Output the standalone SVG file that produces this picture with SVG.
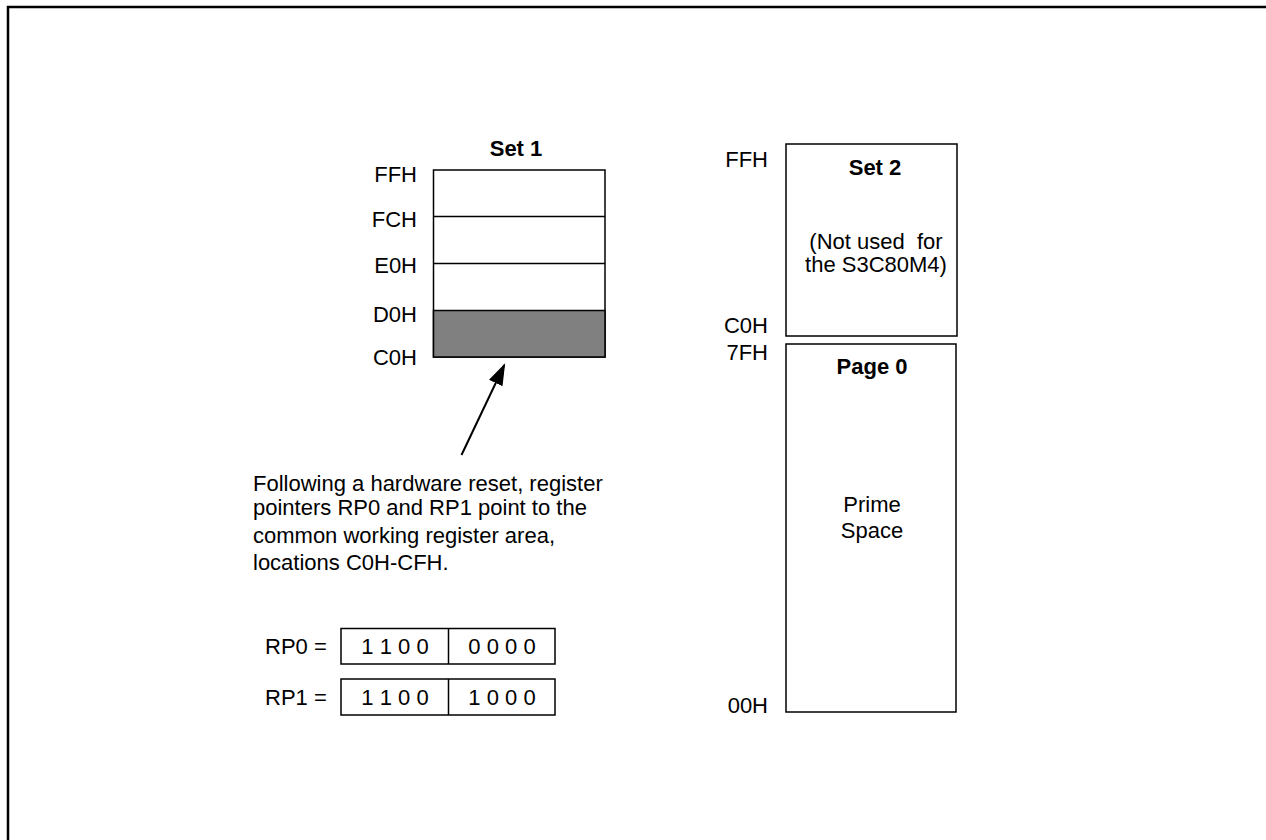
<svg xmlns="http://www.w3.org/2000/svg" width="1266" height="840" viewBox="0 0 1266 840">
<style>
text{font-family:"Liberation Sans",Arial,sans-serif;font-size:22px;fill:#000}
.b{font-weight:bold}
.r{text-anchor:end}
.m{text-anchor:middle}
.box{fill:#fff;stroke:#000;stroke-width:1.5}
.ln{stroke:#000;stroke-width:1.5;fill:none}
</style>
<defs>
<marker id="ah" viewBox="0 0 22 15" refX="20" refY="7.5" markerWidth="11" markerHeight="7.5" orient="auto" markerUnits="strokeWidth">
<path d="M0,0 L22,7.5 L0,15 z" fill="#000"/>
</marker>
</defs>
<rect width="1266" height="840" fill="#fff"/>
<path d="M8,840 V7 H1266" fill="none" stroke="#000" stroke-width="2.5"/>

<g id="set1">
<text class="b m" x="516" y="156">Set 1</text>
<rect class="box" x="433.5" y="170" width="171.5" height="187"/>
<rect x="433.5" y="310.5" width="171.5" height="46.5" fill="#808080" stroke="#000" stroke-width="1.5"/>
<line class="ln" x1="433.5" y1="216.5" x2="605" y2="216.5"/>
<line class="ln" x1="433.5" y1="263.5" x2="605" y2="263.5"/>
<text class="r" x="417" y="182">FFH</text>
<text class="r" x="417" y="227">FCH</text>
<text class="r" x="417" y="273">E0H</text>
<text class="r" x="417" y="322">D0H</text>
<text class="r" x="417" y="365">C0H</text>
</g>

<g id="set2">
<rect class="box" x="786" y="144" width="171" height="192"/>
<text class="b m" x="875" y="175">Set 2</text>
<text class="m" x="876" y="249" xml:space="preserve">(Not used  for</text>
<text class="m" x="876" y="272">the S3C80M4)</text>
<text class="r" x="768" y="167">FFH</text>
<text class="r" x="768" y="333">C0H</text>
</g>

<g id="page0">
<rect class="box" x="786" y="344" width="170" height="368"/>
<text class="b m" x="872" y="374">Page 0</text>
<text class="m" x="872" y="512">Prime</text>
<text class="m" x="872" y="538">Space</text>
<text class="r" x="768" y="360">7FH</text>
<text class="r" x="768" y="713">00H</text>
</g>

<g id="note">
<text x="253" y="491">Following a hardware reset, register</text>
<text x="253" y="515">pointers RP0 and RP1 point to the</text>
<text x="253" y="543">common working register area,</text>
<text x="253" y="570">locations C0H-CFH.</text>
</g>

<g id="rp0">
<text x="265" y="654">RP0 =</text>
<rect class="box" x="341" y="628.5" width="214" height="35.5"/>
<line class="ln" x1="448.5" y1="628.5" x2="448.5" y2="664"/>
<text class="m" x="395" y="654">1 1 0 0</text>
<text class="m" x="502" y="654">0 0 0 0</text>
</g>

<g id="rp1">
<text x="265" y="705">RP1 =</text>
<rect class="box" x="341" y="679" width="214" height="36"/>
<line class="ln" x1="448.5" y1="679" x2="448.5" y2="715"/>
<text class="m" x="395" y="705">1 1 0 0</text>
<text class="m" x="502" y="705">1 0 0 0</text>
</g>

<g id="connectors">
<line x1="461.5" y1="455" x2="504.3" y2="365" stroke="#000" stroke-width="2" marker-end="url(#ah)"/>
</g>
</svg>
